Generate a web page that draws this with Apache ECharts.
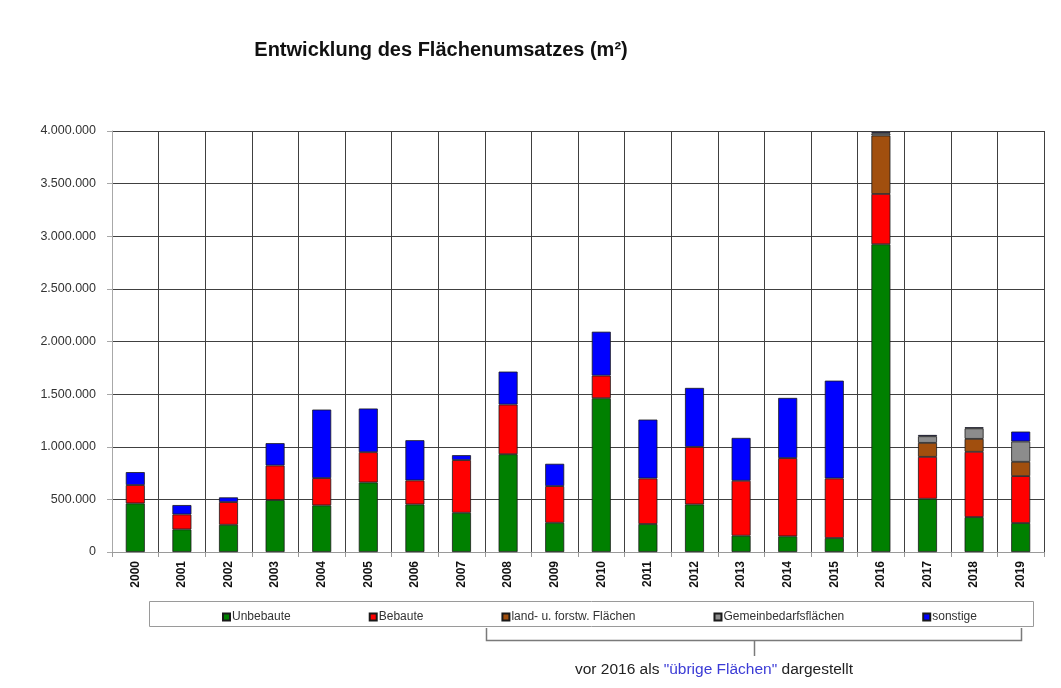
<!DOCTYPE html>
<html>
<head>
<meta charset="utf-8">
<title>Entwicklung des Flächenumsatzes</title>
<script src="https://cdn.jsdelivr.net/npm/echarts@6/dist/echarts.min.js"></script>
<style>
  html, body { margin: 0; padding: 0; background: #fff; }
  #chart { width: 1061px; height: 688px; }
</style>
</head>
<body>
<div id="chart"></div>
<script>
// Jahre
const years = ['2000','2001','2002','2003','2004','2005','2006','2007','2008','2009',
               '2010','2011','2012','2013','2014','2015','2016','2017','2018','2019']

// Flächenumsatz in m² je Kategorie
const unbebaute = [462000, 215000, 259000, 493000, 443000, 661000, 452000, 373000, 929000, 278000,
                   1461000, 266000, 452000, 155000, 149000, 133000, 2924000, 506000, 332000, 275000]
const bebaute = [174000, 142000, 215000, 329000, 259000, 287000, 228000, 500000, 472000, 348000,
                 215000, 433000, 547000, 522000, 743000, 566000, 478000, 398000, 620000, 446000]
const landForst = [null, null, null, null, null, null, null, null, null, null,
                   null, null, null, null, null, null, 555000, 133000, 123000, 136000]
const gemeinbedarf = [null, null, null, null, null, null, null, null, null, null,
                      null, null, null, null, null, null, 20000, 63000, 100000, 193000]
const sonstige = [123000, 89000, 45000, 212000, 651000, 415000, 382000, 47000, 313000, 212000,
                  417000, 559000, 560000, 407000, 572000, 929000, 12000, 12000, 10000, 94000]

const chart = echarts.init(document.getElementById('chart'))

// Tausenderpunkte
function fmt(v){
  return String(v).replace(/\B(?=(\d{3})+(?!\d))/g, '.')
}

function makeSeries(name, data, color){
  return {
    name: name,
    type: 'bar',
    stack: 'flaeche',
    barWidth: 19,
    data: data,
    itemStyle: { color: color, borderColor: '#1a1a1a', borderWidth: 0.8 },
    emphasis: { disabled: true }
  }
}

const font = 'Liberation Sans, Arial, sans-serif'

const option = {
  animation: false,
  backgroundColor: '#fff',
  textStyle: { fontFamily: font },
  title: {
    text: 'Entwicklung des Flächenumsatzes (m²)',
    left: 436,
    textAlign: 'center',
    top: 35,
    textStyle: { fontSize: 20, fontWeight: 'bold', color: '#111', fontFamily: font }
  },
  grid: { left: 112, right: 17, top: 131, bottom: 136 },
  legend: {
    left: 217,
    top: 606,
    itemWidth: 7,
    itemHeight: 7,
    itemGap: 78,
    icon: 'rect',
    textStyle: { fontSize: 12, color: '#333', padding: [0, 0, 0, -3] },
    data: ['Unbebaute', 'Bebaute', 'land- u. forstw. Flächen', 'Gemeinbedarfsflächen', 'sonstige']
  },
  xAxis: {
    type: 'category',
    data: years,
    axisLine: { lineStyle: { color: '#9a9a9a' } },
    axisTick: { show: true, interval: 0, length: 5, lineStyle: { color: '#9a9a9a' } },
    splitLine: { show: true, interval: 0, lineStyle: { color: '#404040', width: 1 } },
    axisLabel: { interval: 0, rotate: 90, fontSize: 12, fontWeight: 'bold', color: '#111', margin: 9 }
  },
  yAxis: {
    type: 'value',
    min: 0,
    max: 4000000,
    interval: 500000,
    axisLine: { show: true, lineStyle: { color: '#a8a8a8' } },
    axisTick: { show: true, length: 5, lineStyle: { color: '#a8a8a8' } },
    splitLine: { lineStyle: { color: '#404040', width: 1 } },
    axisLabel: { fontSize: 12.5, color: '#333', margin: 16, formatter: fmt }
  },
  series: [
    makeSeries('Unbebaute', unbebaute, '#008000'),
    makeSeries('Bebaute', bebaute, '#ff0000'),
    makeSeries('land- u. forstw. Flächen', landForst, '#a14f0e'),
    makeSeries('Gemeinbedarfsflächen', gemeinbedarf, '#8c8c8c'),
    makeSeries('sonstige', sonstige, '#0000ff')
  ],
  graphic: [
    // Rahmen um die Legende
    {
      type: 'rect',
      z: -1,
      shape: { x: 149.5, y: 601.5, width: 884, height: 25 },
      style: { fill: '#fff', stroke: '#9a9a9a', lineWidth: 1 }
    },
    // Klammer unter den Legendeneinträgen
    {
      type: 'polyline',
      shape: { points: [[486.5, 628], [486.5, 640.5], [1021.5, 640.5], [1021.5, 628]] },
      style: { stroke: '#7a7a7a', lineWidth: 1.5, fill: null }
    },
    {
      type: 'line',
      shape: { x1: 754.5, y1: 640.5, x2: 754.5, y2: 656 },
      style: { stroke: '#7a7a7a', lineWidth: 1.5 }
    },
    {
      type: 'text',
      x: 714,
      y: 670,
      style: {
        text: 'vor 2016 als {b|"übrige Flächen"} dargestellt',
        align: 'center',
        verticalAlign: 'middle',
        fontSize: 15.5,
        fill: '#222',
        fontFamily: font,
        rich: {
          b: { fill: '#3b3bd6', fontSize: 15.5, fontFamily: font }
        }
      }
    }
  ]
}

chart.setOption(option)
</script>
</body>
</html>
